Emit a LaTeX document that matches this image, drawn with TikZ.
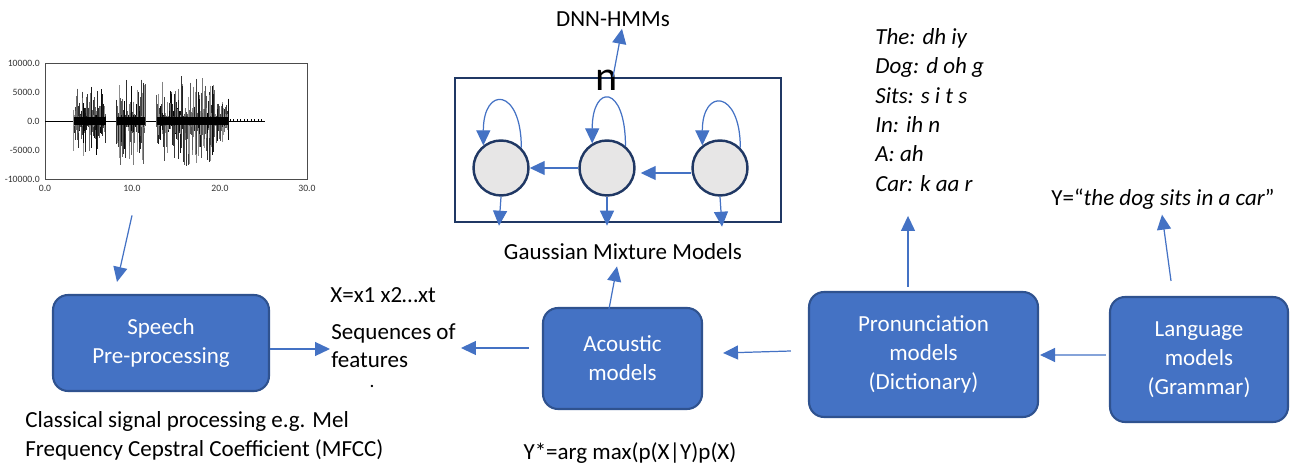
\documentclass[tikz,border=0pt]{standalone}
\usepackage{fontspec}
\setmainfont{Carlito}
\usetikzlibrary{arrows.meta,calc,positioning}
\definecolor{boxblue}{HTML}{4472C4}
\definecolor{boxedge}{HTML}{2F528F}
\definecolor{navy}{HTML}{203864}
\definecolor{stategray}{HTML}{E7E6E6}
\newcommand{\txtsize}{\fontsize{13.1}{16.5}\selectfont}
\begin{document}
\begin{tikzpicture}[x=0.02cm,y=-0.02cm,
    model/.style={draw=boxedge, line width=1.2pt, fill=boxblue, rounded corners=0.3cm,
        text=white, align=center, font=\txtsize, inner sep=0pt},
    link/.style={draw=boxblue, line width=0.7pt, -{Triangle[length=0.3cm,width=0.28cm]}},
    state/.style={circle, draw=navy, line width=1.4pt, fill=stategray,
        minimum size=1.1cm, inner sep=0pt},
    txt/.style={font=\txtsize, inner sep=0pt},
    axlabel/.style={font=\fontsize{5.5}{6}\selectfont, inner sep=0pt, text=black!80}]
  \useasboundingbox (0,0) rectangle (1290,465);

  % speech waveform
  \begin{scope}
    \node[draw=black!70, line width=0.5pt, minimum width=5.24cm, minimum height=2.32cm,
        inner sep=0pt] (wave) at (176,121) {};
    \foreach \v/\y in {10000.0/63, 5000.0/92, 0.0/121, -5000.0/150, -10000.0/179}
      \node[axlabel, anchor=east] at (40,\y) {\v};
    \foreach \t/\x in {0.0/45, 10.0/132, 20.0/220, 30.0/307}
      \node[axlabel] at (\x,188) {\t};
    \draw[black, line width=0.5pt] (45,121) -- (265,121);
    \pgfmathsetseed{5}
    \foreach \a/\b/\amp in {3.3/7.0/30, 8.2/11.5/40, 12.8/15.5/36, 15.5/19.5/40, 19.5/21.0/18} {
      \pgfmathsetmacro{\nx}{\a+0.06}
      \foreach \t in {\a,\nx,...,\b} {
        \pgfmathsetmacro{\up}{5+\amp*rnd^2.2}
        \pgfmathsetmacro{\dn}{5+\amp*rnd^2.2}
        \pgfmathsetmacro{\gr}{int(40+60*rnd)}
        \draw[black!\gr, line width=0.5pt] (45+\t*8.73,121-\up) -- (45+\t*8.73,121+\dn);
      }
      \fill[black] (45+\a*8.73,117) rectangle (45+\b*8.73,125);
    }
    \foreach \t in {21.2,21.6,...,25}
      \draw[black, line width=0.4pt] (45+\t*8.73,119.5) -- (45+\t*8.73,122.5);
  \end{scope}

  % model boxes
  \node[model, minimum width=4.32cm, minimum height=1.92cm] (speech) at (161,343)
      {Speech\\Pre-processing};
  \node[model, minimum width=3.18cm, minimum height=2.02cm] (acoustic) at (622.5,358.5)
      {Acoustic\\models};
  \node[model, minimum width=4.58cm, minimum height=2.5cm] (pron) at (923.5,354.5)
      {Pronunciation\\models\\(Dictionary)};
  \node[model, minimum width=3.56cm, minimum height=2.5cm] (lang) at (1199,359.5)
      {Language\\models\\(Grammar)};

  % texts
  \node[txt, anchor=west] (seqx) at (330,295) {X=x1 x2…xt};
  \node[txt, anchor=west, align=left, font=\fontsize{13.1}{16}\selectfont] (seq) at (331,346)
      {Sequences of\\features};
  \node[inner sep=0pt, font=\fontsize{11}{11}\selectfont] (dot) at (372,386) {.};
  \node[txt] (gmm) at (623,252) {Gaussian Mixture Models};
  \node[txt] (dnn) at (613,19) {DNN-HMMs};
  \node[txt, anchor=west, align=left, font=\itshape\fontsize{13.1}{16.7}\selectfont] (dict)
      at (875,110) {The: dh iy\\Dog: d oh g\\Sits: s i t s\\In: ih n\\A: ah\\Car: k aa r};
  \node[txt] (ysent) at (1163,199) {Y=“\textit{the dog sits in a car}”};
  \node[txt, anchor=west, align=left] (mfcc) at (25,436)
      {Classical signal processing e.g. Mel\\Frequency Cepstral Coefficient (MFCC)};
  \node[txt] (argmax) at (630,453) {Y*=arg max(p(X|Y)p(X)};

  % hidden markov model
  \node[draw=navy, line width=1.4pt, minimum width=6.52cm, minimum height=2.88cm,
      inner sep=0pt] (hmm) at (618,150) {};
  \node[state] (s1) at (501,168) {};
  \node[state] (s2) at (607,168) {};
  \node[state] (s3) at (720,168) {};
  \node[inner sep=0pt, font=\fontsize{24}{28}\selectfont] (n) at (607,80) {n};

  \draw[link] (s2.west) -- (s1.east);
  \draw[link] ($(s3.west)+(0,5)$) -- ($(s2.east)+(5,5)$);
  \draw[link] (s1.45) .. controls +(0,-60) and +(0,-60) .. (s1.128);
  \draw[link] (s2.50) .. controls +(0,-62) and +(0,-60) .. (s2.121);
  \draw[link] (s3.45) .. controls +(0,-58) and +(0,-58) .. (s3.128);
  \draw[link] (s1.south) -- ($(s1.south)+(-2,29)$);
  \draw[link] (s2.south) -- ($(s2.south)+(0,29)$);
  \draw[link] (s3.south) -- ($(s3.south)+(2,30)$);
  \draw[link] ($(hmm.north)+(-5,0)$) -- ($(dnn.south)+(9,2)$);

  % pipeline connectors
  \draw[link] ($(wave.south)+(-44,36)$) -- ($(speech.north)+(-44,-12)$);
  \draw[link] ($(speech.east)+(0,6)$) -- ($(seq.west)+(-1,3)$);
  \draw[link] ($(acoustic.west)+(-13,-10.5)$) -- ($(acoustic.west)+(-81,-10.5)$);
  \draw[link] ($(acoustic.north)+(-13.5,2)$) -- ($(gmm.south)+(-6,6)$);
  \draw[link] ($(pron.west)+(-17,-3.5)$) -- ($(acoustic.east)+(20,-5.5)$);
  \draw[link] ($(lang.west)+(-3,-4.5)$) -- ($(pron.east)+(1,0.5)$);
  \draw[link] ($(pron.north)+(-15.5,-4)$) -- ($(pron.north)+(-15.5,-75)$);
  \draw[link] ($(lang.north)+(-28,-15)$) -- ($(ysent.south)+(-1,5)$);
\end{tikzpicture}
\end{document}
